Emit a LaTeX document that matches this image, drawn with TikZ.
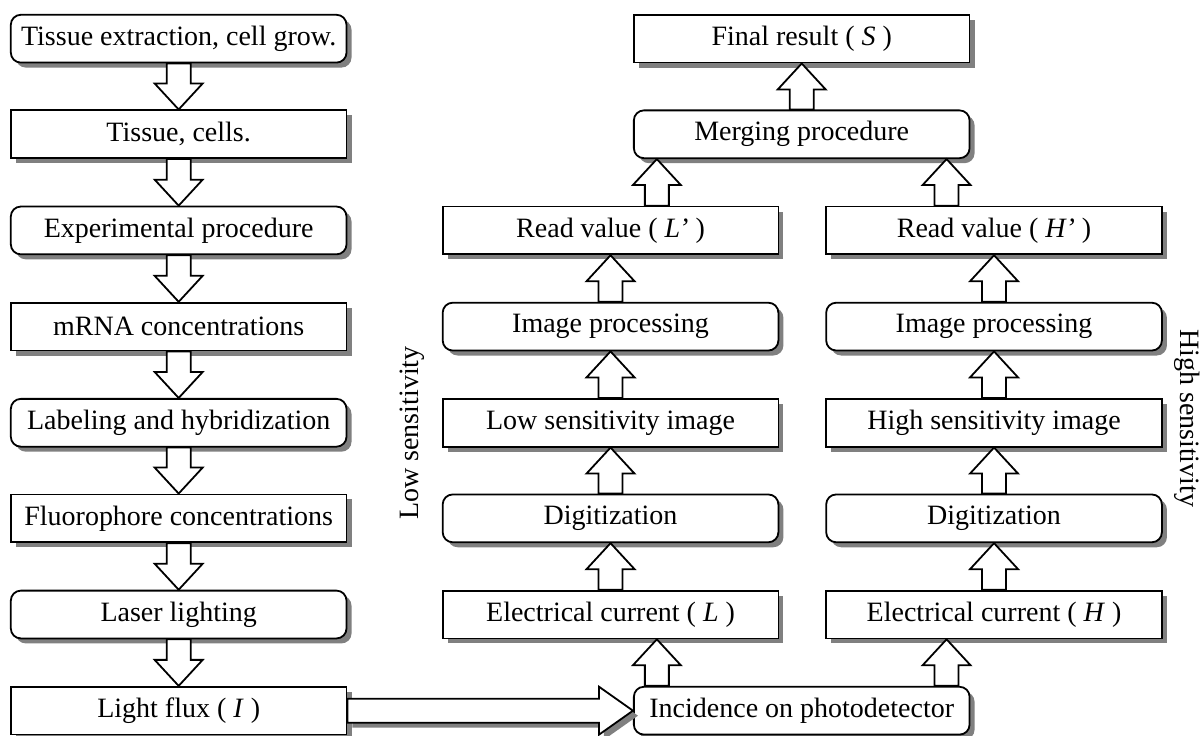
\documentclass[tikz,border=0pt]{standalone}
\usepackage{fontspec}
\setmainfont{Liberation Serif}
\usetikzlibrary{calc,shadows}

\tikzset{
  boxshadow/.style={drop shadow={shadow xshift=2.5pt, shadow yshift=-2.5pt, fill=black!50, opacity=1}},
  valbox/.style={draw, line width=0.9pt, fill=white, minimum width=5.9cm, minimum height=0.84cm, inner sep=1pt, boxshadow},
  procbox/.style={valbox, rounded corners=5pt},
  head len/.store in=\headlen, head len=13pt,
  % hollow block arrow between two points
  blockarrow/.style={draw, fill=white, line width=0.9pt, line join=miter,
    to path={let \p1=($(\tikztotarget)!\headlen!(\tikztostart)$) in
      ($(\tikztostart)!6pt!90:(\tikztotarget)$) -- ($(\p1)!6pt!90:(\tikztotarget)$)
      -- ($(\p1)!12pt!90:(\tikztotarget)$) -- (\tikztotarget)
      -- ($(\p1)!12pt!-90:(\tikztotarget)$) -- ($(\p1)!6pt!-90:(\tikztotarget)$)
      -- ($(\tikztostart)!6pt!-90:(\tikztotarget)$) -- cycle}}
}

\begin{document}
\begin{tikzpicture}[font=\fontsize{14}{16}\selectfont]
\useasboundingbox (0,0) rectangle (21.16,-12.93);

% Experiment (left)
\node[procbox] (extract) at (3.14,-0.68) {Tissue extraction, cell grow.};
\node[valbox] (tissue) at (3.14,-2.36) {Tissue, cells.};
\node[procbox] (experiment) at (3.14,-4.05) {Experimental procedure};
\node[valbox] (mrna) at (3.14,-5.74) {mRNA concentrations};
\node[procbox] (labeling) at (3.14,-7.43) {Labeling and hybridization};
\node[valbox] (fluor) at (3.14,-9.11) {Fluorophore concentrations};
\node[procbox] (laser) at (3.14,-10.80) {Laser lighting};
\node[valbox] (flux) at (3.14,-12.49) {Light flux ( \textit{I} )};

% Low sensitivity channel
\node[valbox] (readL) at (10.73,-4.05) {Read value ( \textit{L’} )};
\node[procbox] (procL) at (10.73,-5.74) {Image processing};
\node[valbox] (imgL) at (10.73,-7.43) {Low sensitivity image};
\node[procbox] (digL) at (10.73,-9.11) {Digitization};
\node[valbox] (curL) at (10.73,-10.80) {Electrical current ( \textit{L} )};

% High sensitivity channel
\node[valbox] (readH) at (17.47,-4.05) {Read value ( \textit{H’} )};
\node[procbox] (procH) at (17.47,-5.74) {Image processing};
\node[valbox] (imgH) at (17.47,-7.43) {High sensitivity image};
\node[procbox] (digH) at (17.47,-9.11) {Digitization};
\node[valbox] (curH) at (17.47,-10.80) {Electrical current ( \textit{H} )};

% Shared boxes
\node[valbox] (result) at (14.09,-0.68) {Final result ( \textit{S} )};
\node[procbox] (merge) at (14.09,-2.36) {Merging procedure};
\node[procbox] (incid) at (14.09,-12.49) {Incidence on photodetector};

\node[rotate=90] (lowlab) at (7.24,-7.61) {Low sensitivity};
\node[rotate=-90] (highlab) at (20.86,-7.35) {High sensitivity};

\coordinate (incL) at ($(incid.north west)+(0.42,0)$);
\coordinate (incH) at ($(incid.north east)+(-0.42,0)$);
\coordinate (mergeL) at ($(merge.south west)+(0.42,0)$);
\coordinate (mergeH) at ($(merge.south east)+(-0.42,0)$);

% Arrows
\draw[blockarrow] (extract.south) to (tissue.north);
\draw[blockarrow] (tissue.south) to (experiment.north);
\draw[blockarrow] (experiment.south) to (mrna.north);
\draw[blockarrow] (mrna.south) to (labeling.north);
\draw[blockarrow] (labeling.south) to (fluor.north);
\draw[blockarrow] (fluor.south) to (laser.north);
\draw[blockarrow] (laser.south) to (flux.north);

\draw[blockarrow, head len=17pt, boxshadow] (flux.east) to (incid.west);

\draw[blockarrow] (incL) to (incL |- curL.south);
\draw[blockarrow] (curL.north) to (digL.south);
\draw[blockarrow] (digL.north) to (imgL.south);
\draw[blockarrow] (imgL.north) to (procL.south);
\draw[blockarrow] (procL.north) to (readL.south);
\draw[blockarrow] (mergeL |- readL.north) to (mergeL);

\draw[blockarrow] (incH) to (incH |- curH.south);
\draw[blockarrow] (curH.north) to (digH.south);
\draw[blockarrow] (digH.north) to (imgH.south);
\draw[blockarrow] (imgH.north) to (procH.south);
\draw[blockarrow] (procH.north) to (readH.south);
\draw[blockarrow] (mergeH |- readH.north) to (mergeH);

\draw[blockarrow] (merge.north) to (result.south);
\end{tikzpicture}
\end{document}
